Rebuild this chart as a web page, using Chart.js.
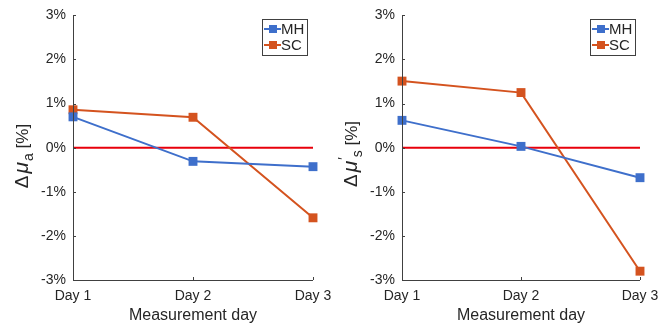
<!DOCTYPE html>
<html>
<head>
<meta charset="utf-8">
<script src="https://cdn.jsdelivr.net/npm/chart.js@4.4.1/dist/chart.umd.min.js"></script>
<style>
	html, body { margin: 0; padding: 0; background: #fff; overflow: hidden; }
	body { width: 658px; height: 329px; position: relative; }
	.panel { position: absolute; top: 0; width: 345px; height: 329px; }
	#left { left: 0; }
	#right { left: 329px; }
</style>
</head>
<body>
<div class="panel" id="left"><canvas id="chartA"></canvas></div>
<div class="panel" id="right"><canvas id="chartS"></canvas></div>
<script>
var days = ['Day 1', 'Day 2', 'Day 3'];
var muA_MH = [0.70, -0.31, -0.43];
var muA_SC = [0.86, 0.69, -1.59];
var muS_MH = [0.62, 0.03, -0.68];
var muS_SC = [1.51, 1.25, -2.80];
var zeroLine = [0, 0, 0];
var yTicks = [-3, -2, -1, 0, 1, 2, 3];

var textColor = '#262626';
var axisColor = '#404040';
var blue = '#3E6FCB';
var orange = '#D4531F';
var red = '#E8000B';
var fontFamily = '"Liberation Sans", Arial, Helvetica, sans-serif';

Chart.defaults.font.family = fontFamily;
Chart.defaults.color = textColor;

// draws axis lines, inward ticks, y title (with sub/superscripts) and the legend box
var decorPlugin = {
	id: 'decor',
	afterDraw: function(chart, args, opts) {
		var ctx = chart.ctx;
		var area = chart.chartArea;
		var xs = chart.scales.x, ys = chart.scales.y;
		ctx.save();
		// axes
		ctx.strokeStyle = axisColor;
		ctx.lineWidth = 1;
		ctx.beginPath();
		ctx.moveTo(area.left + 0.5, area.top);
		ctx.lineTo(area.left + 0.5, area.bottom + 0.5);
		ctx.lineTo(area.right, area.bottom + 0.5);
		ctx.stroke();
		// inward ticks
		ctx.beginPath();
		yTicks.forEach(function(v) {
			var py = Math.round(ys.getPixelForValue(v)) + 0.5;
			ctx.moveTo(area.left, py);
			ctx.lineTo(area.left + 3, py);
		});
		days.forEach(function(d, i) {
			var px = Math.round(xs.getPixelForValue(i)) + 0.5;
			ctx.moveTo(px, area.bottom);
			ctx.lineTo(px, area.bottom - 3);
		});
		ctx.stroke();

		// y axis title, baseline at titleX, centred on titleY
		ctx.translate(opts.titleX, opts.titleY);
		ctx.rotate(-Math.PI / 2);
		ctx.fillStyle = textColor;
		ctx.textBaseline = 'alphabetic';
		ctx.textAlign = 'left';
		var parts = opts.titleParts;
		var total = 0;
		parts.forEach(function(p) {
			ctx.font = p.font;
			p.w = ctx.measureText(p.t).width + (p.gap || 0);
			total += p.w;
		});
		var cx = -total / 2;
		parts.forEach(function(p) {
			ctx.font = p.font;
			ctx.fillText(p.t, cx, p.dy || 0);
			cx += p.w;
		});
		ctx.restore();

		// legend box
		ctx.save();
		var lg = opts.legend;
		ctx.fillStyle = '#fff';
		ctx.fillRect(lg.x, lg.y, lg.w, lg.h);
		ctx.strokeStyle = axisColor;
		ctx.lineWidth = 1;
		ctx.strokeRect(lg.x + 0.5, lg.y + 0.5, lg.w, lg.h);
		ctx.font = '15px ' + fontFamily;
		ctx.textBaseline = 'middle';
		ctx.textAlign = 'left';
		chart.data.datasets.forEach(function(ds, i) {
			if (!ds.inLegend) return;
			var ly = lg.y + 10 + i * 16;
			ctx.strokeStyle = ds.borderColor;
			ctx.lineWidth = 2;
			ctx.beginPath();
			ctx.moveTo(lg.x + 2, ly);
			ctx.lineTo(lg.x + 19, ly);
			ctx.stroke();
			ctx.fillStyle = ds.borderColor;
			ctx.fillRect(lg.x + 7, ly - 4, 8, 8);
			ctx.fillStyle = textColor;
			ctx.fillText(ds.label, lg.x + 19, ly + 1);
		});
		ctx.restore();
	}
};

function makeChart(id, mh, sc, titleParts, extra) {
	return new Chart(document.getElementById(id), {
		type: 'line',
		data: {
			labels: days,
			datasets: [
				{
					label: 'MH',
					data: mh,
					inLegend: true,
					borderColor: blue,
					backgroundColor: blue,
					borderWidth: 2,
					pointStyle: 'rect',
					pointRadius: 6.3,
					pointBorderWidth: 0,
					lineTension: 0
				},
				{
					label: 'SC',
					data: sc,
					inLegend: true,
					borderColor: orange,
					backgroundColor: orange,
					borderWidth: 2,
					pointStyle: 'rect',
					pointRadius: 6.3,
					pointBorderWidth: 0,
					lineTension: 0
				},
				{
					label: 'zero',
					data: zeroLine,
					borderColor: red,
					borderWidth: 2,
					pointRadius: 0,
					lineTension: 0
				}
			]
		},
		options: {
			responsive: true,
			maintainAspectRatio: false,
			animation: false,
			clip: false,
			layout: {
				padding: { left: 0, top: 14, right: extra.padRight, bottom: 0 }
			},
			plugins: {
				legend: { display: false },
				tooltip: { enabled: false },
				decor: {
					titleX: 28,
					titleY: extra.titleY,
					titleParts: titleParts,
					legend: extra.legend
				}
			},
			scales: {
				x: {
					offset: false,
					grid: { display: false, drawTicks: false },
					border: { display: false },
					ticks: {
						font: { size: 14 },
						color: textColor,
						padding: 8,
						maxRotation: 0,
						autoSkip: false
					},
					title: {
						display: true,
						text: 'Measurement day',
						font: { size: 16 },
						color: textColor,
						padding: { top: 1 }
					},
					afterFit: function(s) { s.height = 49; }
				},
				y: {
					min: -3,
					max: 3,
					grid: { display: false, drawTicks: false },
					border: { display: false },
					afterBuildTicks: function(s) {
						s.ticks = yTicks.map(function(v) { return { value: v }; });
					},
					ticks: {
						font: { size: 14 },
						color: textColor,
						padding: 7,
						callback: function(v) { return v + '%'; }
					},
					afterFit: function(s) { s.width = 73; }
				}
			}
		},
		plugins: [decorPlugin]
	});
}

var fBig = '19px ' + fontFamily;
var fMu = 'italic 21px ' + fontFamily;
var fSub = '14px ' + fontFamily;
var fUnit = '17px ' + fontFamily;

makeChart('chartA', muA_MH, muA_SC, [
	{ t: '\u0394', font: fBig, gap: 2 },
	{ t: '\u03bc', font: fMu, gap: 1 },
	{ t: 'a', font: fSub, dy: 5 },
	{ t: ' [%]', font: fUnit }
], { padRight: 32, titleY: 156, legend: { x: 262, y: 19, w: 45, h: 36 } });

makeChart('chartS', muS_MH, muS_SC, [
	{ t: '\u0394', font: fBig, gap: 2 },
	{ t: '\u03bc', font: fMu, gap: 1 },
	{ t: '\u2032', font: fSub, dy: -9 },
	{ t: 's', font: fSub, dy: 5 },
	{ t: ' [%]', font: fUnit }
], { padRight: 34, titleY: 154, legend: { x: 261, y: 19, w: 45, h: 36 } });
</script>
</body>
</html>
